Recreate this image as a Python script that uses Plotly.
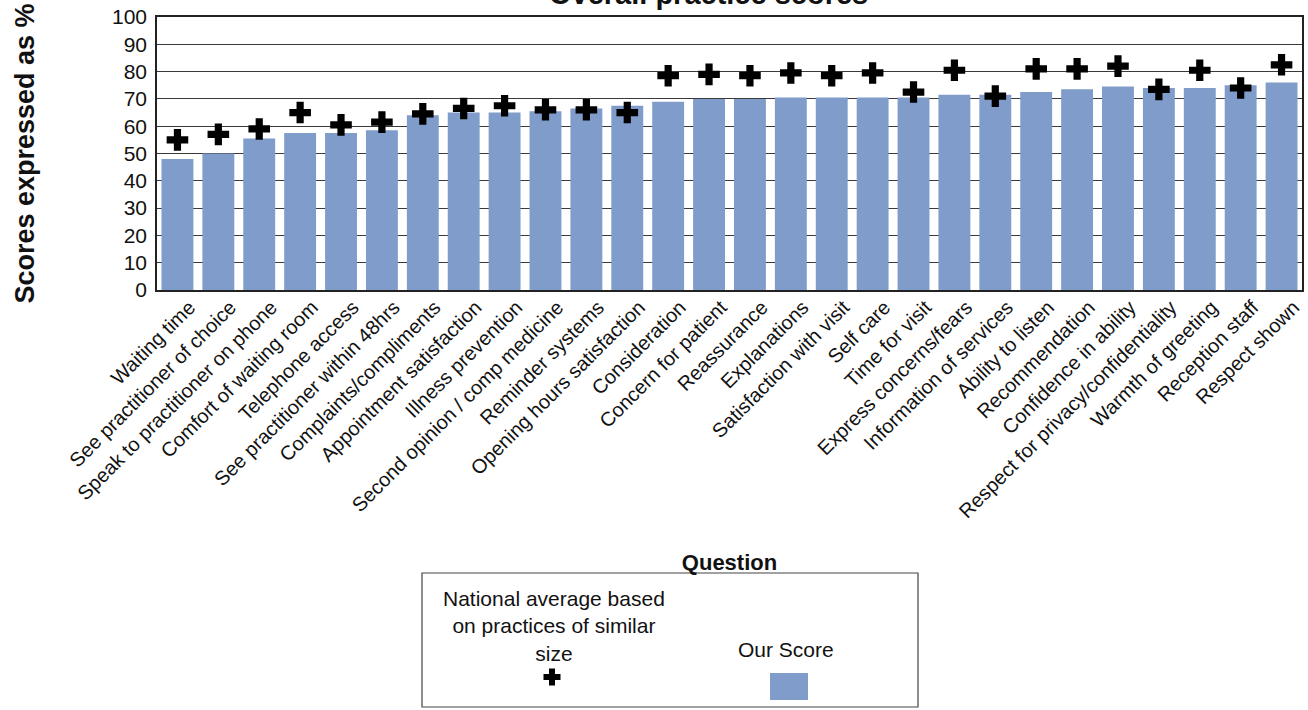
import plotly.graph_objects as go

categories = [
    "Waiting time", "See practitioner of choice", "Speak to practitioner on phone",
    "Comfort of waiting room", "Telephone access", "See practitioner within 48hrs",
    "Complaints/compliments", "Appointment satisfaction", "Illness prevention",
    "Second opinion / comp medicine", "Reminder systems", "Opening hours satisfaction",
    "Consideration", "Concern for patient", "Reassurance", "Explanations",
    "Satisfaction with visit", "Self care", "Time for visit", "Express concerns/fears",
    "Information of services", "Ability to listen", "Recommendation",
    "Confidence in ability", "Respect for privacy/confidentiality",
    "Warmth of greeting", "Reception staff", "Respect shown",
]
our_score = [48, 50, 55.5, 57.5, 57.5, 58.5, 64, 65, 65, 65.5, 66.5, 67.5,
             69, 70, 70, 70.5, 70.5, 70.5, 70.5, 71.5, 71.5, 72.5, 73.5,
             74.5, 74, 74, 75, 76]
national_avg = [55, 57, 59, 65, 60.5, 61.5, 64.5, 66.5, 67.5, 66, 66, 65,
                78.5, 79, 78.5, 79.5, 78.5, 79.5, 72.5, 80.5, 71, 81, 81,
                82, 73.5, 80.5, 74, 82.5]
y_ticks = [0, 10, 20, 30, 40, 50, 60, 70, 80, 90, 100]

BAR = "#7F9CCB"
FONT = "Liberation Sans, Arial, sans-serif"

W, H = 1308, 710
L, R, T, B = 157, 6, 17, 420
PW = W - L - R
PH = H - T - B


def px(x):
    return (x - L) / PW


def py(y):
    return (H - B - y) / PH


fig = go.Figure()
fig.add_trace(go.Bar(
    x=categories, y=our_score, name="Our Score",
    marker=dict(color=BAR, line=dict(width=0)),
    showlegend=False,
))
fig.add_trace(go.Scatter(
    x=categories, y=national_avg, mode="markers",
    name="National average based on practices of similar size",
    marker=dict(symbol="cross", size=18, color="black", line=dict(width=0)),
    showlegend=False,
))

shapes = []
# legend box
shapes.append(dict(type="rect", xref="paper", yref="paper",
                   x0=px(422), x1=px(918), y0=py(707), y1=py(573),
                   line=dict(color="#444", width=1.2), fillcolor="white", layer="above"))
# legend cross glyph
cx, cy = 552, 677
shapes.append(dict(type="rect", xref="paper", yref="paper",
                   x0=px(cx - 8.5), x1=px(cx + 8.5), y0=py(cy + 3), y1=py(cy - 3),
                   line=dict(width=0), fillcolor="black", layer="above"))
shapes.append(dict(type="rect", xref="paper", yref="paper",
                   x0=px(cx - 3), x1=px(cx + 3), y0=py(cy + 8.5), y1=py(cy - 8.5),
                   line=dict(width=0), fillcolor="black", layer="above"))
# legend bar swatch
shapes.append(dict(type="rect", xref="paper", yref="paper",
                   x0=px(770), x1=px(808), y0=py(700), y1=py(673),
                   line=dict(width=0), fillcolor=BAR, layer="above"))

annotations = [
    dict(text="<b>Overall practice scores</b>", xref="paper", yref="paper",
         x=px(708), y=py(-6), xanchor="center", yanchor="middle", showarrow=False,
         font=dict(size=29, color="#111", family=FONT)),
    dict(text="National average based<br>on practices of similar<br>size",
         xref="paper", yref="paper", x=px(554), y=py(626), xanchor="center",
         yanchor="middle", showarrow=False, align="center",
         font=dict(size=21, color="#111", family=FONT)),
    dict(text="Our Score", xref="paper", yref="paper", x=px(786), y=py(650),
         xanchor="center", yanchor="middle", showarrow=False,
         font=dict(size=21, color="#111", family=FONT)),
]

fig.update_layout(
    width=W, height=H,
    margin=dict(l=L, r=R, t=T, b=B),
    paper_bgcolor="white", plot_bgcolor="white",
    bargap=0.22,
    font=dict(family=FONT, color="#111"),
    shapes=shapes, annotations=annotations,
    xaxis=dict(
        range=[-0.5, len(categories) - 0.5], autorange=False,
        tickangle=-45, tickfont=dict(size=20, color="#111"),
        showline=True, linecolor="#222", linewidth=1.5, mirror=True,
        ticks="", automargin=False, ticklabelshift=12, ticklabelstandoff=-4,
        title=dict(text="<b>Question</b>", font=dict(size=22, color="#111"), standoff=33),
    ),
    yaxis=dict(
        range=[0, 100], tickvals=y_ticks, tickfont=dict(size=21, color="#111"),
        showgrid=True, gridcolor="#3a3a3a", gridwidth=1.2,
        showline=True, linecolor="#222", linewidth=1.5, mirror=True,
        ticks="", ticklabelstandoff=4, automargin=False, zeroline=False,
        title=dict(text="<b>Scores expressed as %</b>", font=dict(size=27, color="#111"),
                   standoff=70),
    ),
)

fig.write_html(
    "out.html",
    config={"displayModeBar": False},
    post_script="document.body.style.margin='0';document.body.style.overflow='hidden';",
)
